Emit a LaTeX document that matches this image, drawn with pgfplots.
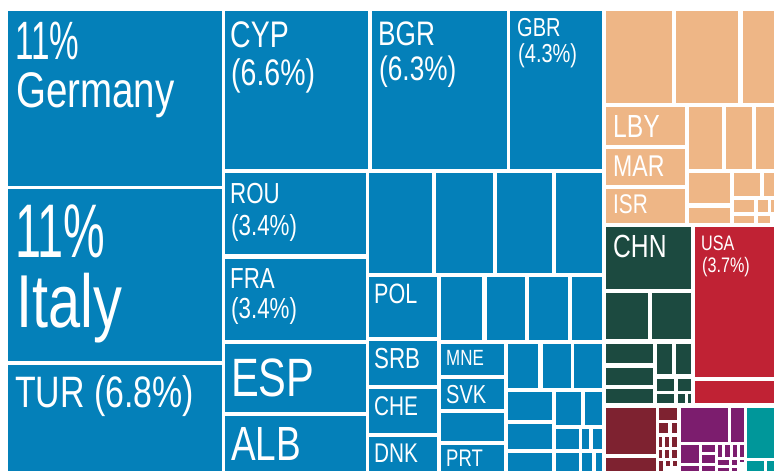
\documentclass[border=0pt]{standalone}
\usepackage{pgfplots}
\pgfplotsset{compat=1.18}
\usepackage{fontspec}
\setmainfont{Liberation Sans}
\newfontfamily\lab[FakeStretch=0.77]{Liberation Sans}
\definecolor{cblue}{HTML}{0480B9}
\definecolor{cpeach}{HTML}{EEB686}
\definecolor{cgreen}{HTML}{1C4A40}
\definecolor{cred}{HTML}{C02234}
\definecolor{cdred}{HTML}{7E2230}
\definecolor{cpurp}{HTML}{7C1D6E}
\definecolor{cteal}{HTML}{00979A}
\newcommand{\R}[5]{\addplot[fill=#1,draw=none] coordinates {(#2,#3) (#4,#3) (#4,#5) (#2,#5)} -- cycle;}
\newcommand{\T}[4]{\node[anchor=base west,text=white,inner sep=0pt,font=\lab\fontsize{#3}{#3}\selectfont] at (axis cs:#1,#2) {#4};}
\begin{document}
\begin{tikzpicture}
\begin{axis}[width=774pt,height=471pt,scale only axis,hide axis,
  xmin=0,xmax=774,ymin=0,ymax=471,y dir=reverse,clip=true]
\R{white}{0}{0}{774}{471}
% blue: Europe
\R{cblue}{8}{11}{222}{186}
\R{cblue}{8}{189}{222}{361}
\R{cblue}{8}{365}{222}{471}
\R{cblue}{225}{11}{368}{169}
\R{cblue}{225}{173}{366}{254}
\R{cblue}{225}{259}{366}{340}
\R{cblue}{225}{344}{366}{412}
\R{cblue}{225}{416}{366}{471}
\R{cblue}{372}{11}{507}{169}
\R{cblue}{510}{11}{602}{169}
\R{cblue}{369}{173}{432}{273}
\R{cblue}{436}{173}{493}{273}
\R{cblue}{497}{173}{552}{273}
\R{cblue}{556}{173}{602}{273}
\R{cblue}{369}{277}{437}{337}
\R{cblue}{441}{277}{482}{340}
\R{cblue}{487}{277}{525}{340}
\R{cblue}{529}{277}{568}{340}
\R{cblue}{572}{277}{602}{340}
\R{cblue}{369}{341}{437}{385}
\R{cblue}{369}{389}{437}{433}
\R{cblue}{369}{437}{437}{471}
\R{cblue}{441}{344}{504}{375}
\R{cblue}{441}{379}{504}{409}
\R{cblue}{441}{413}{504}{441}
\R{cblue}{441}{445}{504}{471}
\R{cblue}{508}{344}{538}{388}
\R{cblue}{543}{344}{571}{388}
\R{cblue}{574}{344}{602}{388}
\R{cblue}{508}{392}{552}{420}
\R{cblue}{556}{392}{581}{425}
\R{cblue}{585}{392}{602}{425}
\R{cblue}{508}{424}{552}{449}
\R{cblue}{508}{453}{552}{471}
\R{cblue}{556}{429}{579}{449}
\R{cblue}{582}{429}{589}{449}
\R{cblue}{593}{429}{602}{449}
\R{cblue}{556}{453}{579}{471}
\R{cblue}{582}{453}{592}{471}
\R{cblue}{596}{453}{602}{471}
% peach: Africa / Middle East
\R{cpeach}{606}{11}{672}{103}
\R{cpeach}{676}{11}{738}{103}
\R{cpeach}{743}{11}{774}{103}
\R{cpeach}{606}{107}{685}{145}
\R{cpeach}{606}{149}{685}{185}
\R{cpeach}{606}{189}{685}{223}
\R{cpeach}{689}{107}{722}{169}
\R{cpeach}{726}{107}{752}{169}
\R{cpeach}{756}{107}{774}{169}
\R{cpeach}{689}{173}{730}{203}
\R{cpeach}{689}{208}{730}{223}
\R{cpeach}{734}{173}{760}{196}
\R{cpeach}{764}{173}{774}{196}
\R{cpeach}{734}{200}{754}{212}
\R{cpeach}{758}{200}{768}{212}
\R{cpeach}{771}{200}{774}{212}
\R{cpeach}{734}{216}{754}{223}
\R{cpeach}{758}{216}{770}{223}
% green: Asia
\R{cgreen}{606}{227}{691}{289}
\R{cgreen}{606}{293}{648}{339}
\R{cgreen}{652}{293}{691}{339}
\R{cgreen}{606}{344}{653}{363}
\R{cgreen}{606}{368}{653}{385}
\R{cgreen}{606}{389}{653}{403}
\R{cgreen}{657}{344}{672}{374}
\R{cgreen}{676}{344}{691}{374}
\R{cgreen}{657}{379}{674}{391}
\R{cgreen}{678}{379}{691}{391}
\R{cgreen}{657}{394}{674}{403}
\R{cgreen}{678}{394}{685}{403}
\R{cgreen}{688}{394}{691}{403}
% red: North America
\R{cred}{695}{227}{774}{377}
\R{cred}{695}{381}{774}{403}
% dark red
\R{cdred}{606}{408}{656}{454}
\R{cdred}{606}{458}{656}{471}
\R{cdred}{659}{408}{677}{420}
\R{cdred}{659}{423}{668}{433}
\R{cdred}{672}{423}{677}{433}
\R{cdred}{659}{437}{662}{447}
\R{cdred}{665}{437}{669}{447}
\R{cdred}{672}{437}{677}{447}
\R{cdred}{659}{450}{662}{458}
\R{cdred}{665}{450}{669}{458}
\R{cdred}{672}{450}{677}{458}
\R{cdred}{659}{461}{663}{471}
\R{cdred}{666}{461}{670}{466}
\R{cdred}{673}{461}{677}{466}
% purple
\R{cpurp}{681}{408}{728}{442}
\R{cpurp}{731}{408}{744}{442}
\R{cpurp}{681}{445}{699}{463}
\R{cpurp}{681}{466}{699}{471}
\R{cpurp}{702}{445}{715}{452}
\R{cpurp}{702}{455}{715}{463}
\R{cpurp}{702}{466}{715}{471}
\R{cpurp}{718}{445}{722}{457}
\R{cpurp}{725}{445}{730}{457}
\R{cpurp}{733}{445}{737}{457}
\R{cpurp}{740}{445}{744}{457}
\R{cpurp}{718}{460}{729}{465}
\R{cpurp}{732}{460}{737}{465}
\R{cpurp}{740}{460}{744}{462}
\R{cpurp}{718}{468}{729}{471}
\R{cpurp}{732}{468}{737}{471}
% teal
\R{cteal}{747}{408}{774}{458}
\R{cteal}{747}{461}{764}{471}
\R{cteal}{767}{461}{774}{471}
% labels
\node[anchor=base west,text=white,inner sep=0pt,font=\lab\fontsize{54}{54}\selectfont] at (axis cs:15,59) {\scalebox{0.8}[1]{11\%}};
\T{16}{107}{50}{Germany}
\node[anchor=base west,text=white,inner sep=0pt,font=\lab\fontsize{76}{76}\selectfont] at (axis cs:15,257) {\scalebox{0.8}[1]{11\%}};
\T{16}{327}{75}{Italy}
\T{15}{407}{44}{TUR (6.8\%)}
\T{230}{47}{37}{CYP}
\T{231}{85}{37}{(6.6\%)}
\T{378}{45}{34}{BGR}
\T{379}{80}{34}{(6.3\%)}
\T{517}{36}{26}{GBR}
\T{518}{62}{26}{(4.3\%)}
\T{230}{203}{29}{ROU}
\T{231}{235}{29}{(3.4\%)}
\T{230}{288}{29}{FRA}
\T{231}{318}{29}{(3.4\%)}
\T{231}{396}{54}{ESP}
\T{231}{460}{48}{ALB}
\T{374}{303}{28}{POL}
\T{374}{368}{29}{SRB}
\T{374}{415}{27}{CHE}
\T{374}{462}{27}{DNK}
\T{446}{365}{22}{MNE}
\T{446}{403}{26}{SVK}
\T{446}{466}{24}{PRT}
\T{613}{137}{32}{LBY}
\T{613}{176}{30}{MAR}
\T{613}{213}{27}{ISR}
\T{613}{257}{32}{CHN}
\T{701}{250}{21}{USA}
\T{702}{272}{21}{(3.7\%)}
\end{axis}
\end{tikzpicture}
\end{document}
